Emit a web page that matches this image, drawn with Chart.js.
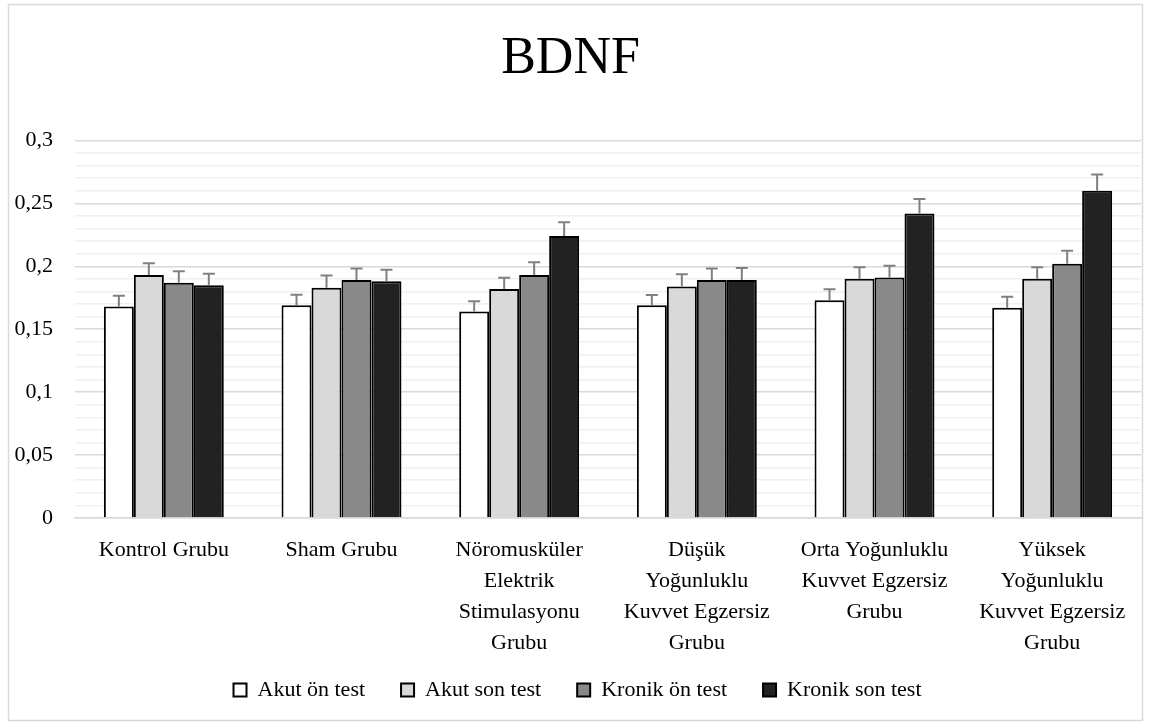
<!DOCTYPE html>
<html><head><meta charset="utf-8">
<script src="https://cdn.jsdelivr.net/npm/chart.js@4.4.0/dist/chart.umd.min.js"></script>
<style>html,body{margin:0;padding:0;background:#fff;}canvas{display:block;}</style>
</head><body>
<canvas id="c" width="1149" height="725"></canvas>
<script>
const categories = [
  ['Kontrol Grubu'],
  ['Sham Grubu'],
  ['Nöromusküler', 'Elektrik', 'Stimulasyonu', 'Grubu'],
  ['Düşük', 'Yoğunluklu', 'Kuvvet Egzersiz', 'Grubu'],
  ['Orta Yoğunluklu', 'Kuvvet Egzersiz', 'Grubu'],
  ['Yüksek', 'Yoğunluklu', 'Kuvvet Egzersiz', 'Grubu']
];
const seriesNames = ['Akut ön test', 'Akut son test', 'Kronik ön test', 'Kronik son test'];
const akutOn    = [0.168, 0.169, 0.164, 0.169, 0.173, 0.167];
const akutSon   = [0.193, 0.183, 0.182, 0.184, 0.190, 0.190];
const kronikOn  = [0.187, 0.189, 0.193, 0.189, 0.191, 0.202];
const kronikSon = [0.185, 0.188, 0.224, 0.189, 0.242, 0.260];
const akutOnErr    = [0.0085, 0.0084, 0.0082, 0.0082, 0.0087, 0.0087];
const akutSonErr   = [0.0093, 0.0096, 0.0088, 0.0096, 0.0093, 0.0092];
const kronikOnErr  = [0.0090, 0.0093, 0.0101, 0.0093, 0.0095, 0.0103];
const kronikSonErr = [0.0090, 0.0093, 0.0109, 0.0096, 0.0114, 0.0129];
const yTickLabels = ['0', '0,05', '0,1', '0,15', '0,2', '0,25', '0,3'];

const seriesValues = [akutOn, akutSon, kronikOn, kronikSon];
const seriesErrors = [akutOnErr, akutSonErr, kronikOnErr, kronikSonErr];
const seriesColors = ['#ffffff', '#d9d9d9', '#898989', '#222222'];
const FONT = 'Liberation Serif';

const isMajor = v => Math.round(v * 100) % 5 === 0;

const frame = {
  id: 'frame',
  beforeDraw(chart) {
    const c = chart.ctx;
    c.save();
    c.fillStyle = '#fff';
    c.fillRect(0, 0, chart.width, chart.height);
    c.strokeStyle = '#d9d9d9';
    c.lineWidth = 1.5;
    c.strokeRect(8.5, 4.5, 1134, 716);
    c.restore();
  },
  afterLayout(chart) {
    if (chart.legend) { chart.legend.left += 7; chart.legend.right += 7; }
    if (chart.scales.x) { chart.scales.x.bottom += 30; }
  }
};

const errorBars = {
  id: 'errorBars',
  afterDatasetsDraw(chart) {
    const c = chart.ctx, ys = chart.scales.y;
    c.save();
    c.strokeStyle = '#808080';
    c.lineWidth = 2;
    chart.data.datasets.forEach((ds, i) => {
      const meta = chart.getDatasetMeta(i);
      meta.data.forEach((bar, j) => {
        const top = ys.getPixelForValue(ds.data[j] + seriesErrors[i][j]);
        c.beginPath();
        c.moveTo(bar.x, bar.y);
        c.lineTo(bar.x, top);
        c.moveTo(bar.x - 6, top);
        c.lineTo(bar.x + 6, top);
        c.stroke();
      });
    });
    c.restore();
  }
};

new Chart(document.getElementById('c'), {
  type: 'bar',
  data: {
    labels: categories,
    datasets: seriesNames.map((n, i) => ({
      label: n,
      data: seriesValues[i],
      backgroundColor: seriesColors[i],
      borderColor: '#000',
      borderWidth: 2,
      barPercentage: 1,
      categoryPercentage: 0.675
    }))
  },
  options: {
    responsive: false,
    devicePixelRatio: 1,
    animation: false,
    layout: { padding: { left: 0, right: 8, top: 0, bottom: 14 } },
    plugins: {
      title: {
        display: true,
        text: 'BDNF',
        color: '#000',
        font: { family: FONT, size: 52, weight: 'normal', lineHeight: 1.2 },
        padding: { top: 28, bottom: 50 }
      },
      legend: {
        position: 'bottom',
        labels: {
          color: '#000',
          font: { family: FONT, size: 22 },
          boxWidth: 13,
          boxHeight: 13,
          padding: 36
        }
      },
      tooltip: { enabled: false }
    },
    scales: {
      x: {
        grid: { display: false },
        border: { display: true, color: '#d9d9d9', width: 1.5 },
        ticks: {
          color: '#000',
          font: { family: FONT, size: 22, lineHeight: 1.4 },
          padding: 9,
          maxRotation: 0,
          minRotation: 0,
          autoSkip: false
        },
        afterFit(s) { s.height = 125; }
      },
      y: {
        min: 0,
        max: 0.3,
        border: { display: false },
        grid: {
          drawTicks: false,
          color: ctx => (ctx.tick && isMajor(ctx.tick.value)) ? '#d9d9d9' : '#f0f0f0',
          lineWidth: 1.5
        },
        ticks: {
          color: '#000',
          font: { family: FONT, size: 22 },
          padding: 22,
          autoSkip: false,
          callback: v => isMajor(v) ? yTickLabels[Math.round(v * 20)] : ''
        },
        afterBuildTicks(s) {
          const t = [];
          for (let i = 0; i <= 30; i++) t.push({ value: i / 100 });
          s.ticks = t;
        },
        afterFit(s) { s.width = 75; }
      }
    }
  },
  plugins: [frame, errorBars]
});
</script>
</body></html>
